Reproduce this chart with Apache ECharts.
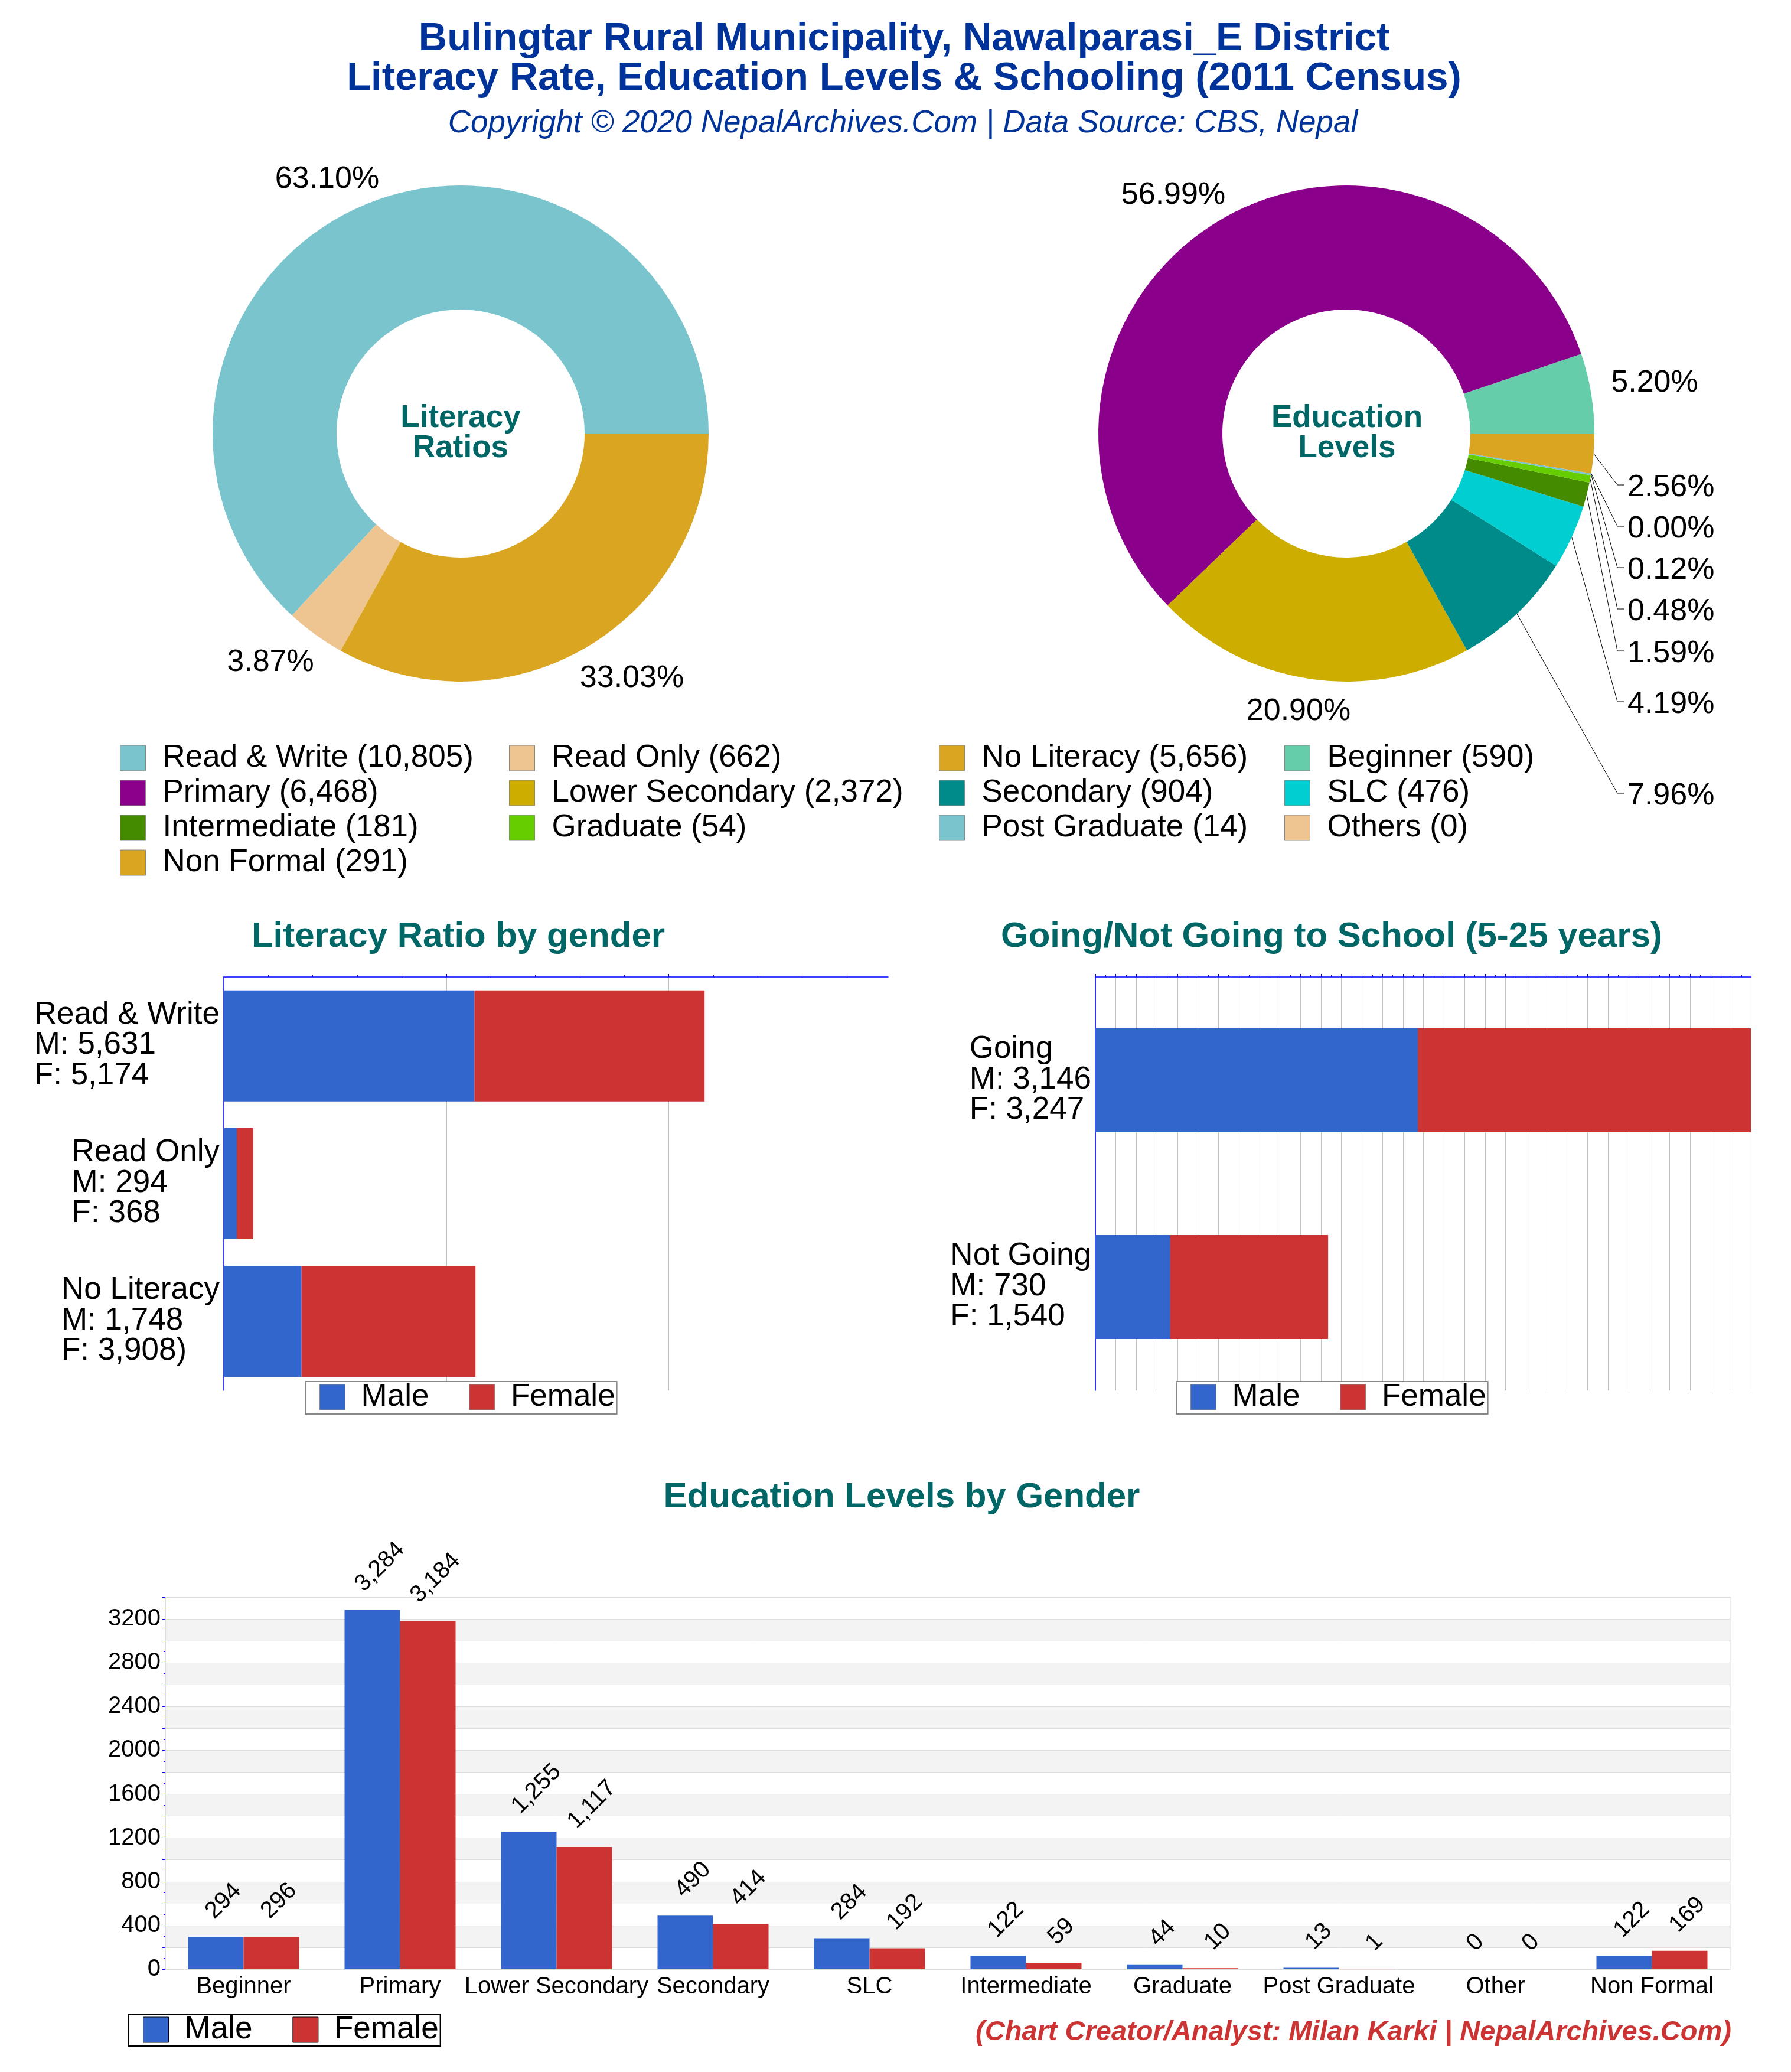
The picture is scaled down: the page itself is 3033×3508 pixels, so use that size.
<!DOCTYPE html>
<html>
<head>
<meta charset="utf-8">
<title>Literacy Rate, Education Levels & Schooling</title>
<script src="https://cdn.jsdelivr.net/npm/echarts@6/dist/echarts.min.js"></script>
<style>
html, body { margin: 0; padding: 0; background: #fff; }
#chart { width: 3033px; height: 3508px; }
</style>
</head>
<body>
<div id="chart"></div>
<script>
// literacy donut
var literacyNames = ['Read & Write', 'Read Only', 'No Literacy'];
var literacyValues = [10805, 662, 5656];
var literacyColors = ['#7AC5CD', '#EEC591', '#DAA520'];

// education donut
var educationNames = ['Beginner', 'Primary', 'Lower Secondary', 'Secondary', 'SLC', 'Intermediate', 'Graduate', 'Post Graduate', 'Others', 'Non Formal'];
var educationValues = [590, 6468, 2372, 904, 476, 181, 54, 14, 0, 291];
var educationColors = ['#66CDAA', '#8B008B', '#CDAD00', '#008B8B', '#00CED1', '#458B00', '#66CD00', '#7AC5CD', '#EEC591', '#DAA520'];

// literacy by gender
var literacyLabels = ['Read & Write\nM: 5,631\nF: 5,174', 'Read Only\nM: 294\nF: 368', 'No Literacy\nM: 1,748\nF: 3,908)'];
var literacyMale = [5631, 294, 1748];
var literacyFemale = [5174, 368, 3908];

// going to school
var schoolLabels = ['Going\nM: 3,146\nF: 3,247', 'Not Going\nM: 730\nF: 1,540'];
var schoolMale = [3146, 730];
var schoolFemale = [3247, 1540];

// education by gender
var levelNames = ['Beginner', 'Primary', 'Lower Secondary', 'Secondary', 'SLC', 'Intermediate', 'Graduate', 'Post Graduate', 'Other', 'Non Formal'];
var levelMale = [294, 3284, 1255, 490, 284, 122, 44, 13, 0, 122];
var levelFemale = [296, 3184, 1117, 414, 192, 59, 10, 1, 0, 169];

var FONT = '"Liberation Sans", Arial, sans-serif';
var BLUE = '#3366CC', RED = '#CC3333', TEAL = '#006666', NAVY = '#003399';

function fmt(n) {
    return n.toLocaleString('en-US');
}

var nameToValue = {};
literacyNames.forEach(function (n, i) { nameToValue[n] = literacyValues[i]; });
educationNames.forEach(function (n, i) { nameToValue[n] = educationValues[i]; });

// where the percent labels sit
var literacyLabelPos = [[554, 304], [458, 1122], [1070, 1149]];
var educationLabelPos = [[2802, 649], [1987, 331], [2199, 1205], [2756, 1348], [2756, 1193], [2756, 1107], [2756, 1036], [2756, 966], [2756, 896], [2756, 826]];
var educationLeader = [false, false, false, true, true, true, true, true, true, true];

function pieSeries(names, values, colors, center, labelPos, leader) {
    var total = values.reduce(function (a, b) { return a + b; }, 0);
    return {
        type: 'pie',
        center: center,
        radius: [210, 420],
        startAngle: 0,
        clockwise: false,
        avoidLabelOverlap: false,
        silent: true,
        data: names.map(function (n, i) {
            return {
                name: n,
                value: values[i],
                itemStyle: { color: colors[i] },
                labelLine: { show: !!(leader && leader[i]) }
            };
        }),
        label: {
            show: true,
            position: 'outside',
            fontFamily: FONT,
            fontSize: 52,
            color: '#000',
            formatter: function (p) {
                return (p.value / total * 100).toFixed(2) + '%';
            }
        },
        labelLine: { show: true, lineStyle: { color: '#000', width: 1 } },
        labelLayout: function (p) {
            var pos = labelPos[p.dataIndex];
            var out = { x: pos[0], y: pos[1], align: 'center', verticalAlign: 'middle' };
            if (leader && leader[p.dataIndex]) {
                out.align = 'left';
                out.labelLinePoints = [p.labelLinePoints[0], [2739, pos[1] - 5], [2750, pos[1] - 5]];
            }
            return out;
        }
    };
}

function pieLegend(x, names) {
    return {
        left: x,
        top: 1252,
        orient: 'vertical',
        padding: 0,
        itemWidth: 43,
        itemHeight: 43,
        itemGap: -4,
        icon: 'rect',
        selectedMode: false,
        itemStyle: { borderColor: '#888', borderWidth: 1 },
        data: names,
        textStyle: { fontFamily: FONT, fontSize: 53, lineHeight: 53, color: '#000', padding: [10, 0, 0, 24] },
        formatter: function (name) {
            return name + ' (' + fmt(nameToValue[name]) + ')';
        }
    };
}

function genderLegend(x, y, border, pad) {
    return {
        left: x,
        top: y,
        orient: 'horizontal',
        padding: pad,
        itemWidth: 43,
        itemHeight: 43,
        itemGap: 68,
        icon: 'rect',
        selectedMode: false,
        backgroundColor: '#fff',
        borderColor: border,
        borderWidth: 2,
        z: 10,
        itemStyle: { borderColor: border, borderWidth: 1 },
        data: ['Male', 'Female'],
        textStyle: { fontFamily: FONT, fontSize: 53, lineHeight: 49, color: '#000', padding: [0, 0, 0, 22] }
    };
}

function valueAxisTop(gridIndex, max, interval, minorSplit, tickValues) {
    var tick = { show: true, length: 5, lineStyle: { color: '#0000FF', width: 1 } };
    if (tickValues) {
        tick.customValues = tickValues;
    }
    return {
        type: 'value',
        gridIndex: gridIndex,
        position: 'top',
        min: 0,
        max: max,
        interval: interval,
        axisLabel: { show: false },
        axisLine: { show: true, lineStyle: { color: '#0000FF', width: 1.5 } },
        axisTick: tick,
        minorTick: { show: true, splitNumber: minorSplit, length: 3, lineStyle: { color: '#0000FF', width: 1 } },
        splitLine: { show: true, lineStyle: { color: '#C0C0C0', width: 1 } }
    };
}

function categoryAxisLeft(gridIndex, labels) {
    return {
        type: 'category',
        gridIndex: gridIndex,
        inverse: true,
        data: labels,
        axisTick: { show: false },
        axisLine: { show: true, lineStyle: { color: '#0000FF', width: 1.5 } },
        axisLabel: {
            interval: 0,
            margin: 7,
            padding: [0, 0, 2, 0],
            fontFamily: FONT,
            fontSize: 53,
            color: '#000',
            lineHeight: 51.5,
            rich: { ln: { align: 'left', fontFamily: FONT, fontSize: 53, color: '#000', lineHeight: 51.5 } },
            formatter: function (v) {
                return v.split('\n').map(function (s) { return '{ln|' + s + '}'; }).join('\n');
            }
        }
    };
}

function stackBar(name, color, xi, values, barWidth) {
    return {
        type: 'bar',
        name: name,
        xAxisIndex: xi,
        yAxisIndex: xi,
        stack: 'g' + xi,
        barWidth: barWidth,
        silent: true,
        itemStyle: { color: color },
        data: values
    };
}

function levelBar(name, color, values) {
    return {
        type: 'bar',
        name: name,
        xAxisIndex: 2,
        yAxisIndex: 2,
        barWidth: 94,
        barGap: '0%',
        silent: true,
        itemStyle: { color: color },
        data: values,
        label: {
            show: true,
            position: 'top',
            rotate: 45,
            fontFamily: FONT,
            fontSize: 40,
            color: '#000',
            formatter: function (p) { return fmt(p.value); }
        },
        labelLayout: function (p) {
            return {
                x: p.rect.x + p.rect.width / 2 + 13,
                y: p.rect.y - 23 - p.labelRect.height / 2,
                align: 'center',
                verticalAlign: 'middle'
            };
        }
    };
}

function heading(text, x, y, size, color, extra) {
    var style = Object.assign({ fontFamily: FONT, fontSize: size, fontWeight: 'bold', color: color }, extra || {});
    return { text: text, left: x, top: y, textAlign: 'center', textVerticalAlign: 'middle', padding: 0, textStyle: style };
}

var option = {
    animation: false,
    backgroundColor: '#fff',
    title: [
        heading('Bulingtar Rural Municipality, Nawalparasi_E District\nLiteracy Rate, Education Levels & Schooling (2011 Census)', 1531, 100, 67, NAVY, { lineHeight: 67 }),
        heading('Copyright © 2020 NepalArchives.Com | Data Source: CBS, Nepal', 1529, 209, 53, NAVY, { fontWeight: 'normal', fontStyle: 'italic' }),
        heading('Literacy\nRatios', 780, 734, 53, TEAL, { lineHeight: 51.5 }),
        heading('Education\nLevels', 2281, 734, 53, TEAL, { lineHeight: 51.5 }),
        heading('Literacy Ratio by gender', 776, 1586, 60, TEAL),
        heading('Going/Not Going to School (5-25 years)', 2255, 1586, 60, TEAL),
        heading('Education Levels by Gender', 1527, 2535, 60, TEAL),
        heading('(Chart Creator/Analyst: Milan Karki | NepalArchives.Com)', 2292, 3441, 47, RED, { fontStyle: 'italic' })
    ],
    legend: [
        pieLegend(203, ['Read & Write', 'Primary', 'Intermediate', 'Non Formal']),
        pieLegend(862, ['Read Only', 'Lower Secondary', 'Graduate']),
        pieLegend(1590, ['No Literacy', 'Secondary', 'Post Graduate']),
        pieLegend(2175, ['Beginner', 'SLC', 'Others']),
        genderLegend(517, 2339, '#888', [0, 3, 2, 24]),
        genderLegend(1992, 2339, '#888', [0, 3, 2, 24]),
        genderLegend(218, 3410, '#000', [0, 3, 1, 24])
    ],
    grid: [
        { left: 379, top: 1654, width: 1125, height: 700 },
        { left: 1855, top: 1654, width: 1110, height: 700 },
        { left: 280, top: 2704, width: 2650, height: 630, show: true, borderColor: '#DDDDDD', borderWidth: 1 }
    ],
    xAxis: [
        valueAxisTop(0, 14930, 5000, 5, [0, 5000, 10000]),
        valueAxisTop(1, 6393, 200, 2),
        {
            type: 'category',
            gridIndex: 2,
            data: levelNames,
            axisTick: { show: false },
            axisLine: { show: true, lineStyle: { color: '#DDDDDD', width: 1 } },
            axisLabel: { interval: 0, margin: 10, fontFamily: FONT, fontSize: 40, color: '#000' }
        }
    ],
    yAxis: [
        categoryAxisLeft(0, literacyLabels),
        categoryAxisLeft(1, schoolLabels),
        {
            type: 'value',
            gridIndex: 2,
            min: 0,
            max: 3400,
            interval: 200,
            axisLine: { show: true, lineStyle: { color: '#DDDDDD', width: 1 } },
            axisTick: { show: true, length: 5, lineStyle: { color: '#0000FF', width: 1 } },
            minorTick: { show: true, splitNumber: 2, length: 3, lineStyle: { color: '#0000FF', width: 1 } },
            axisLabel: {
                margin: 8,
                fontFamily: FONT,
                fontSize: 40,
                color: '#000',
                formatter: function (v) { return v % 400 === 0 ? String(v) : ''; }
            },
            splitLine: { show: true, lineStyle: { color: '#DDDDDD', width: 1 } },
            splitArea: { show: true, areaStyle: { color: ['#FFFFFF', '#F3F3F3'] } }
        }
    ],
    series: [
        pieSeries(literacyNames, literacyValues, literacyColors, [780, 734], literacyLabelPos),
        pieSeries(educationNames, educationValues, educationColors, [2280, 734], educationLabelPos, educationLeader),
        stackBar('Male', BLUE, 0, literacyMale, 188),
        stackBar('Female', RED, 0, literacyFemale, 188),
        stackBar('Male', BLUE, 1, schoolMale, 176),
        stackBar('Female', RED, 1, schoolFemale, 176),
        levelBar('Male', BLUE, levelMale),
        levelBar('Female', RED, levelFemale)
    ]
};

var chart = echarts.init(document.getElementById('chart'), null, { renderer: 'canvas' });
chart.setOption(option);
</script>
</body>
</html>
